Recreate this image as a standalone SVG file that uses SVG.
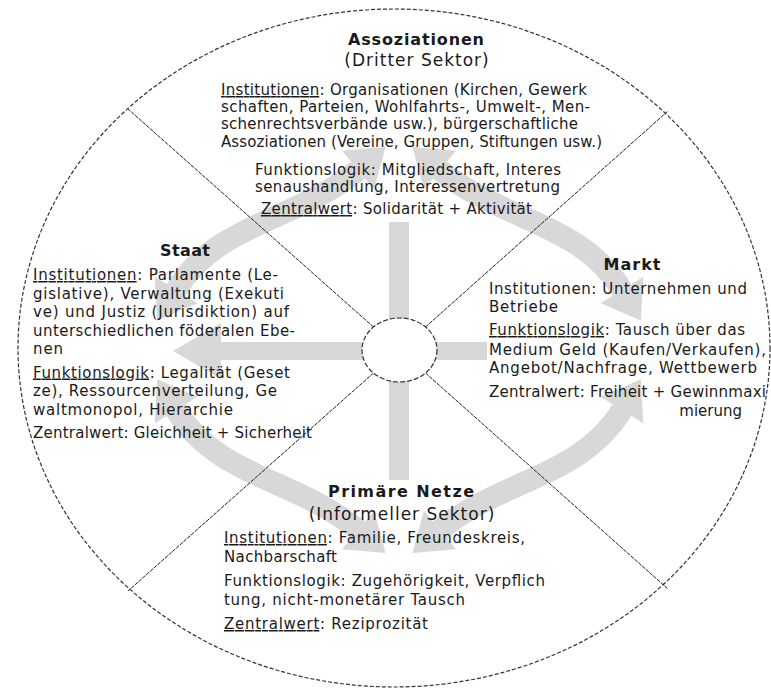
<svg xmlns="http://www.w3.org/2000/svg" width="771" height="690" viewBox="0 0 771 690">
<style>
.t{font-family:"DejaVu Sans","Noto Sans",sans-serif;font-size:15px;fill:#1a1a1a}
.h{font-family:"DejaVu Sans","Noto Sans",sans-serif;font-size:16px;font-weight:bold;fill:#1a1a1a;text-anchor:middle}
.s{font-family:"DejaVu Sans","Noto Sans",sans-serif;font-size:17px;letter-spacing:1px;fill:#1a1a1a;text-anchor:middle}
.u{text-decoration:underline}
.bar{stroke:#d8d8d8;fill:none}
.div{stroke:#222;stroke-width:1;stroke-dasharray:4 1;fill:none}
</style>
<defs>
<marker id="hc" markerUnits="userSpaceOnUse" markerWidth="60" markerHeight="60" refX="0" refY="0" orient="auto-start-reverse" viewBox="-2 -30 54 60" overflow="visible">
<path d="M0,-28 L48,0 L0,28 Z" fill="#d8d8d8"/>
</marker>
<marker id="hr" markerUnits="userSpaceOnUse" markerWidth="60" markerHeight="60" refX="0" refY="0" orient="auto-start-reverse" viewBox="-2 -30 54 60" overflow="visible">
<path d="M0,-25 L36,0 L0,25 Z" fill="#d8d8d8"/>
</marker>
</defs>
<rect width="771" height="690" fill="#fff"/>
<ellipse cx="394" cy="348" rx="376" ry="339" fill="none" stroke="#333" stroke-width="1.2" stroke-dasharray="4 2"/>
<g id="connectors">
<g id="cross">
<line class="bar" stroke-width="20" x1="399" y1="350" x2="399" y2="222"/>
<line class="bar" stroke-width="20" x1="399" y1="350" x2="399" y2="480"/>
<line class="bar" stroke-width="18" x1="399" y1="351" x2="221" y2="351" marker-end="url(#hc)"/>
<line class="bar" stroke-width="18" x1="399" y1="351" x2="487" y2="351"/>
</g>
<g id="ring">
<path class="bar" stroke-width="22" d="M440,170 C501,221 580,222 622,290" marker-start="url(#hr)" marker-end="url(#hr)"/>
<path class="bar" stroke-width="22" d="M358,170 C297,221 218,222 176,290" marker-start="url(#hr)" marker-end="url(#hr)"/>
<path class="bar" stroke-width="22" d="M440,530 C501,479 580,478 622,410" marker-start="url(#hr)" marker-end="url(#hr)"/>
<path class="bar" stroke-width="22" d="M358,530 C297,479 218,478 176,410" marker-start="url(#hr)" marker-end="url(#hr)"/>
</g>
<g id="dividers">
<line class="div" x1="373.5" y1="327" x2="128" y2="109"/>
<line class="div" x1="425.5" y1="327" x2="668" y2="111"/>
<line class="div" x1="373.5" y1="373" x2="128" y2="591"/>
<line class="div" x1="425.5" y1="373" x2="668" y2="589"/>
</g>
</g>
<g id="hub">
<ellipse cx="399.5" cy="350" rx="37.5" ry="32" fill="#fff" stroke="#333" stroke-width="1.2" stroke-dasharray="5 2"/>
</g>
<g id="node-assoziationen">
<text class="h" x="416" y="45" textLength="136" lengthAdjust="spacing">Assoziationen</text>
<text class="s" x="417" y="66">(Dritter Sektor)</text>
<text class="t" x="221" y="95" textLength="366" lengthAdjust="spacing"><tspan class="u">Institutionen</tspan>: Organisationen (Kirchen, Gewerk</text>
<text class="t" x="221" y="112" textLength="369" lengthAdjust="spacing">schaften, Parteien, Wohlfahrts-, Umwelt-, Men-</text>
<text class="t" x="221" y="129" textLength="357" lengthAdjust="spacing">schenrechtsverbände usw.), bürgerschaftliche</text>
<text class="t" x="221" y="146.5" textLength="381" lengthAdjust="spacing">Assoziationen (Vereine, Gruppen, Stiftungen usw.)</text>
<text class="t" x="255" y="174.5" textLength="306" lengthAdjust="spacing">Funktionslogik: Mitgliedschaft, Interes</text>
<text class="t" x="255" y="192" textLength="305" lengthAdjust="spacing">senaushandlung, Interessenvertretung</text>
<text class="t" x="261" y="214" textLength="271" lengthAdjust="spacing"><tspan class="u">Zentralwert</tspan>: Solidarität + Aktivität</text>
</g>
<g id="node-staat">
<text class="h" x="185" y="256" textLength="50" lengthAdjust="spacing">Staat</text>
<text class="t" x="33" y="280" textLength="245" lengthAdjust="spacing"><tspan class="u">Institutionen</tspan>: Parlamente (Le-</text>
<text class="t" x="33" y="298.5" textLength="251" lengthAdjust="spacing">gislative), Verwaltung (Exekuti</text>
<text class="t" x="33" y="317" textLength="256" lengthAdjust="spacing">ve) und Justiz (Jurisdiktion) auf</text>
<text class="t" x="33" y="335.5" textLength="262" lengthAdjust="spacing">unterschiedlichen föderalen Ebe-</text>
<text class="t" x="33" y="354" textLength="30" lengthAdjust="spacing">nen</text>
<text class="t" x="33" y="377.5" textLength="257" lengthAdjust="spacing"><tspan class="u">Funktionslogik</tspan>: Legalität (Geset</text>
<text class="t" x="33" y="396" textLength="244" lengthAdjust="spacing">ze), Ressourcenverteilung, Ge</text>
<text class="t" x="33" y="414.5" textLength="200" lengthAdjust="spacing">waltmonopol, Hierarchie</text>
<text class="t" x="33" y="438" textLength="279" lengthAdjust="spacing">Zentralwert: Gleichheit + Sicherheit</text>
</g>
<g id="node-markt">
<text class="h" x="632" y="270" textLength="57" lengthAdjust="spacing">Markt</text>
<text class="t" x="489" y="294" textLength="258" lengthAdjust="spacing">Institutionen: Unternehmen und</text>
<text class="t" x="489" y="312" textLength="69" lengthAdjust="spacing">Betriebe</text>
<text class="t" x="489" y="335" textLength="256" lengthAdjust="spacing"><tspan class="u">Funktionslogik</tspan>: Tausch über das</text>
<text class="t" x="489" y="355" textLength="277" lengthAdjust="spacing">Medium Geld (Kaufen/Verkaufen),</text>
<text class="t" x="489" y="373" textLength="268" lengthAdjust="spacing">Angebot/Nachfrage, Wettbewerb</text>
<text class="t" x="489" y="397" textLength="277" lengthAdjust="spacing">Zentralwert: Freiheit + Gewinnmaxi</text>
<text class="t" x="742" y="416" text-anchor="end">mierung</text>
</g>
<g id="node-primaere-netze">
<text class="h" x="401" y="497" textLength="146" lengthAdjust="spacing">Primäre Netze</text>
<text class="s" x="402" y="520">(Informeller Sektor)</text>
<text class="t" x="224" y="543" textLength="301" lengthAdjust="spacing"><tspan class="u">Institutionen</tspan>: Familie, Freundeskreis,</text>
<text class="t" x="224" y="562" textLength="113" lengthAdjust="spacing">Nachbarschaft</text>
<text class="t" x="224" y="586" textLength="321" lengthAdjust="spacing">Funktionslogik: Zugehörigkeit, Verpflich</text>
<text class="t" x="224" y="605" textLength="241" lengthAdjust="spacing">tung, nicht-monetärer Tausch</text>
<text class="t" x="224" y="629" textLength="204" lengthAdjust="spacing"><tspan class="u">Zentralwert</tspan>: Reziprozität</text>
</g>
</svg>
